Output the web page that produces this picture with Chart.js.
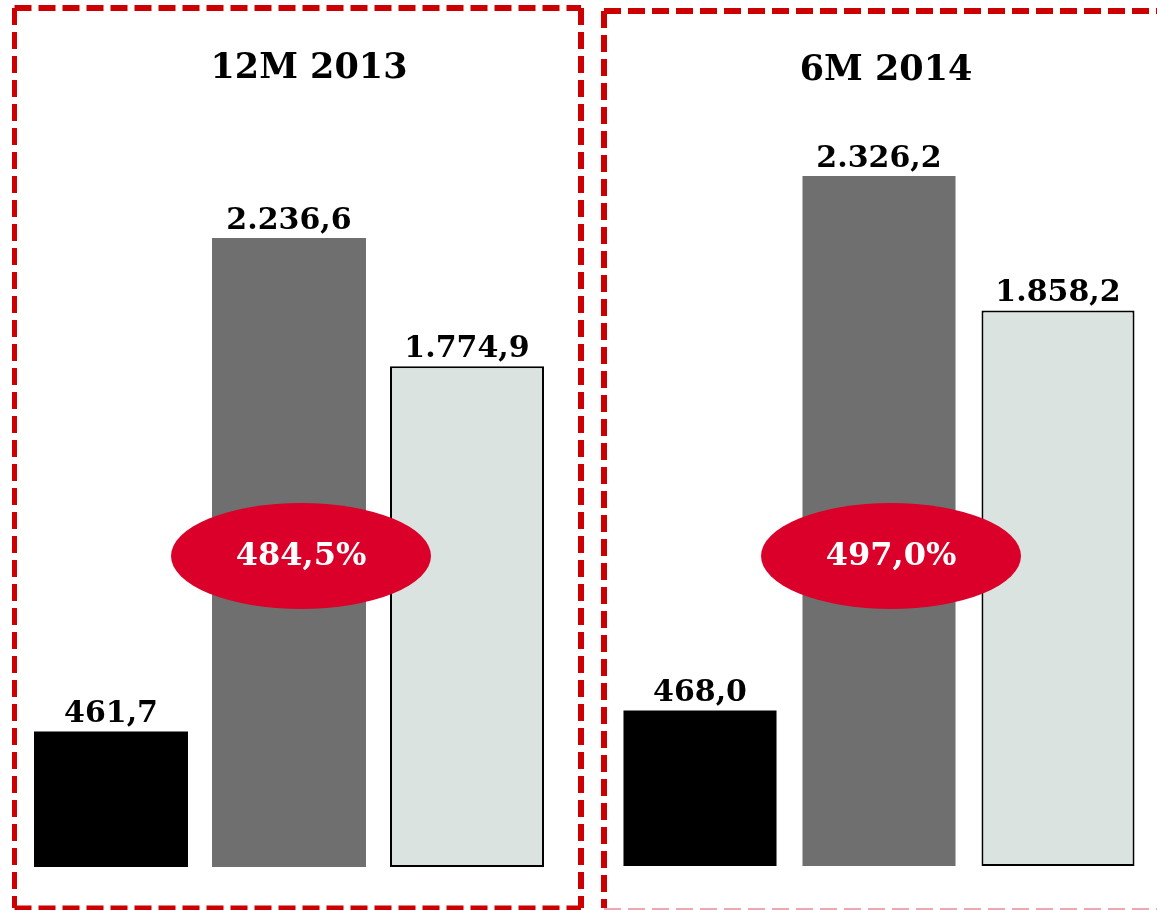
<!DOCTYPE html>
<html>
<head>
<meta charset="utf-8">
<script src="https://cdn.jsdelivr.net/npm/chart.js@4/dist/chart.umd.min.js"></script>
<style>
    body { margin: 0; background: #fff; }
    #wrap { position: relative; width: 1157px; height: 910px; overflow: hidden; }
    canvas { position: absolute; top: 0; }
    #chart2013 { left: 0; }
    #chart2014 { left: 593px; }
</style>
</head>
<body>
<div id="wrap">
    <canvas id="chart2013" width="593" height="910"></canvas>
    <canvas id="chart2014" width="564" height="910"></canvas>
</div>
<script>
const categories = ['Serie 1', 'Serie 2', 'Serie 3'];
const periods = ['12M 2013', '6M 2014'];
const values2013 = [461.7, 2236.6, 1774.9];
const values2014 = [468.0, 2326.2, 1858.2];
const ratios = [484.5, 497.0];
const barColors = ['#000000', '#6f6f6f', '#dbe3e0'];
const barBorders = ['#000000', '#6f6f6f', '#000000'];

const FONT = '"DejaVu Serif", "Liberation Serif", serif';

function fmt(v) {
    const parts = v.toFixed(1).split('.');
    return parts[0].replace(/\B(?=(\d{3})+(?!\d))/g, '.') + ',' + parts[1];
}

// draws the dashed frame, the title, the value labels and the red ellipse
const panelPlugin = {
    id: 'panel',
    afterDatasetsDraw(chart, args, opts) {
        const c = chart.ctx;
        const bars = chart.getDatasetMeta(0).data;
        const data = chart.data.datasets[0].data;

        c.save();
        // frame
        c.lineCap = 'butt';
        c.setLineDash([17, 7]);
        opts.frame.forEach(f => {
            c.strokeStyle = f.color;
            c.lineWidth = f.width;
            c.beginPath();
            c.moveTo(f.x1, f.y1);
            c.lineTo(f.x2, f.y2);
            c.stroke();
        });
        c.setLineDash([]);

        // title
        c.fillStyle = '#000';
        c.textAlign = 'center';
        c.textBaseline = 'alphabetic';
        c.font = 'bold 35px ' + FONT;
        c.fillText(opts.title, opts.titleX, opts.titleY);

        // values
        c.font = 'bold 30px ' + FONT;
        bars.forEach((b, i) => {
            c.fillText(fmt(data[i]), b.x, b.y - 9);
        });

        // ellipse with ratio
        const ex = bars[1].x + 12;
        const ey = 556;
        c.fillStyle = '#da0029';
        c.beginPath();
        c.ellipse(ex, ey, 130, 53, 0, 0, Math.PI * 2);
        c.fill();
        c.fillStyle = '#fff';
        c.font = 'bold 32px ' + FONT;
        c.textBaseline = 'middle';
        c.fillText(fmt(opts.ratio) + '%', ex, ey + 1);
        c.restore();
    }
};

function makeChart(id, values, cfg) {
    return new Chart(document.getElementById(id), {
        type: 'bar',
        data: {
            labels: categories,
            datasets: [{
                data: values,
                base: cfg.min,
                backgroundColor: barColors,
                borderColor: barBorders,
                borderWidth: [0, 0, 2],
                borderSkipped: false,
                barPercentage: cfg.barPct,
                categoryPercentage: 1.0
            }]
        },
        options: {
            responsive: false,
            animation: false,
            layout: { padding: cfg.padding },
            scales: {
                x: { display: false },
                y: { display: false, min: cfg.min, max: cfg.max }
            },
            plugins: {
                legend: { display: false },
                tooltip: { enabled: false },
                panel: cfg.panel
            }
        },
        plugins: [panelPlugin]
    });
}

const red = '#cc0000';

makeChart('chart2013', values2013, {
    barPct: 0.865,
    padding: { left: 22, right: 37, top: 100, bottom: 43 },
    min: -26, max: 2733,
    panel: {
        title: periods[0], titleX: 309, titleY: 78, ratio: ratios[0],
        frame: [
            { x1: 14.5, y1: 8, x2: 581, y2: 8, color: red, width: 6 },
            { x1: 14.5, y1: 8, x2: 14.5, y2: 908, color: red, width: 5 },
            { x1: 581, y1: 8, x2: 581, y2: 908, color: red, width: 6 },
            { x1: 14.5, y1: 908, x2: 581, y2: 908, color: red, width: 5 }
        ]
    }
});

makeChart('chart2014', values2014, {
    barPct: 0.855,
    padding: { left: 17.5, right: 9.5, top: 100, bottom: 44 },
    min: -73, max: 2590,
    panel: {
        title: periods[1], titleX: 293, titleY: 80, ratio: ratios[1],
        frame: [
            { x1: 11, y1: 11, x2: 570, y2: 11, color: red, width: 6 },
            { x1: 11, y1: 11, x2: 11, y2: 908, color: red, width: 6 },
            { x1: 11, y1: 909, x2: 570, y2: 909, color: '#f0a8b0', width: 2 }
        ]
    }
});
</script>
</body>
</html>
